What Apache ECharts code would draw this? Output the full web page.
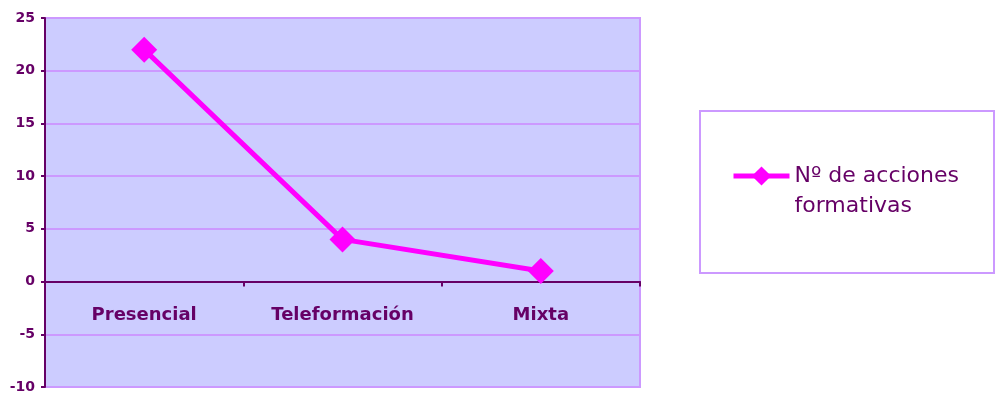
<!DOCTYPE html>
<html>
<head>
<meta charset="utf-8">
<script src="https://cdn.jsdelivr.net/npm/echarts@6/dist/echarts.min.js"></script>
<style>
  html, body { margin: 0; padding: 0; background: #ffffff; }
  #chart { width: 995px; height: 393px; }
</style>
</head>
<body>
<div id="chart"></div>
<script>
// Training actions by delivery mode
const categories = ['Presencial', 'Teleformación', 'Mixta'];
const acciones = [22, 4, 1];
const seriesName = 'Nº de acciones formativas';
const yMin = -10, yMax = 25, yStep = 5;

const purple = '#660066';
const gridPurple = '#CC99FF';
const magenta = '#FF00FF';
const fontFamily = '"DejaVu Sans", sans-serif';

const chart = echarts.init(document.getElementById('chart'));
chart.setOption({
  animation: false,
  grid: {
    left: 45, top: 18, right: 355, bottom: 6,
    show: true,
    backgroundColor: '#CCCCFF',
    borderColor: gridPurple,
    borderWidth: 2,
    containLabel: false,
    outerBoundsMode: 'none'
  },
  xAxis: {
    type: 'category',
    data: categories,
    boundaryGap: true,
    axisLine: { onZero: true, lineStyle: { color: purple, width: 2 } },
    axisTick: { show: true, length: 5, lineStyle: { color: purple, width: 2 } },
    axisLabel: {
      color: purple, fontFamily, fontWeight: 'bold', fontSize: 18, margin: -81
    },
    splitLine: { show: false }
  },
  yAxis: {
    type: 'value',
    min: yMin, max: yMax, interval: yStep,
    axisLine: { show: true, lineStyle: { color: purple, width: 2 } },
    axisTick: { show: true, length: 4, lineStyle: { color: purple, width: 2 } },
    axisLabel: { color: purple, fontFamily, fontWeight: 'bold', fontSize: 14, margin: 10 },
    splitLine: { show: true, lineStyle: { color: gridPurple, width: 2 } }
  },
  legend: {
    show: true,
    orient: 'vertical',
    left: 731, top: 131,
    padding: 0,
    itemWidth: 56, itemHeight: 24,
    itemGap: 0,
    lineStyle: { width: 5 },
    textStyle: { color: purple, fontFamily, fontSize: 22, lineHeight: 30 },
    // blank first line keeps the first text line level with the icon
    formatter: () => ' \nNº de acciones\nformativas',
    data: [seriesName]
  },
  graphic: [{
    type: 'rect',
    shape: { x: 700, y: 111, width: 294, height: 162 },
    style: { fill: '#ffffff', stroke: gridPurple, lineWidth: 2 },
    z: -1
  }],
  series: [{
    name: seriesName,
    type: 'line',
    data: acciones,
    symbol: 'diamond',
    symbolSize: 26,
    lineStyle: { color: magenta, width: 5 },
    itemStyle: { color: magenta }
  }]
});
</script>
</body>
</html>
